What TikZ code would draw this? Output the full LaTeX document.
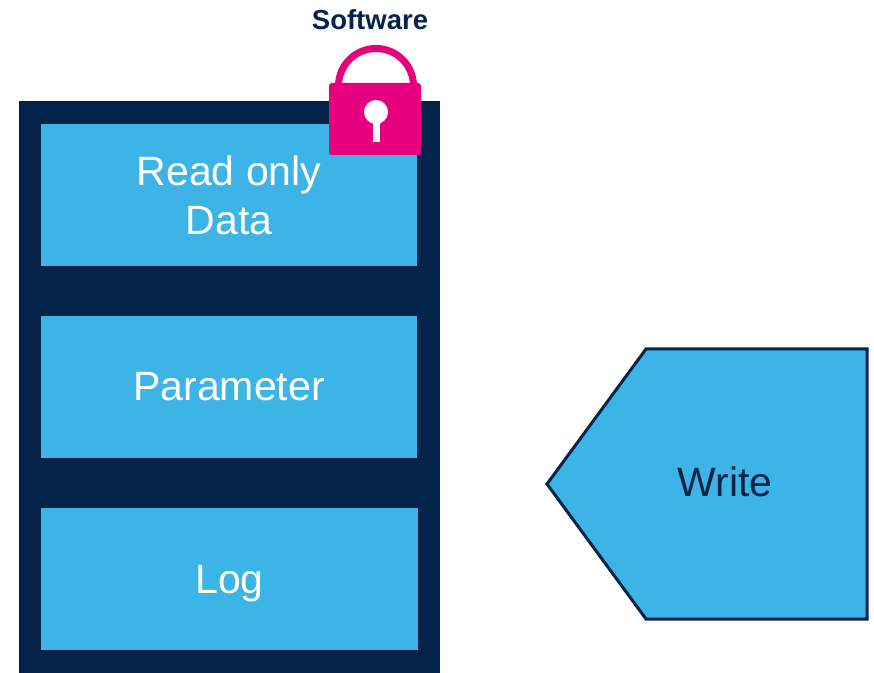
\documentclass[tikz,border=0pt]{standalone}
\usepackage{fontspec}
\setmainfont{Liberation Sans}
\definecolor{stnavy}{HTML}{03234B}
\definecolor{stblue}{HTML}{3CB4E6}
\definecolor{stpink}{HTML}{E6007E}
\begin{document}
\begin{tikzpicture}[x=1pt,y=1pt,
  memblock/.style={fill=stblue,text=white,minimum width=376pt,minimum height=142pt,inner sep=0pt,align=center,font=\fontsize{41}{49.3}\selectfont}]

  \useasboundingbox (0,0) rectangle (874,672);

  \draw (229.5,283.5) node[fill=stnavy,minimum width=421pt,minimum height=575pt,inner sep=0pt] (frame) {};
\draw (229,477) node[memblock] (rod) {Read only\\Data};
\draw (229,285) node[memblock] (par) {Parameter};
\draw (229.5,93) node[memblock,minimum width=377pt,text depth=0pt] (log) {Log};

  % lock
  \draw[stpink,line width=7pt] (338.5,589) -- (338.5,586) arc (180:0:37.5) -- (413.5,589);
  \draw (375,553) node[fill=stpink,rounded corners=3pt,minimum width=92pt,minimum height=72pt,inner sep=0pt] (lock) {};
  \fill[white] (376,560) circle (12);
  \fill[white] (372.5,530) rectangle (379.5,560);

  \draw (370,652) node[text=stnavy,font=\bfseries\fontsize{27.5}{33}\selectfont] (sw) {Software};

  % write
  \draw[stnavy,line width=3pt,fill=stblue] (646,323) -- (867,323) -- (867,53) -- (646,53) -- (547,188) -- cycle;
  \draw (725,190) node[text=stnavy,font=\fontsize{41}{50}\selectfont] (wr) {Write};

\end{tikzpicture}
\end{document}
